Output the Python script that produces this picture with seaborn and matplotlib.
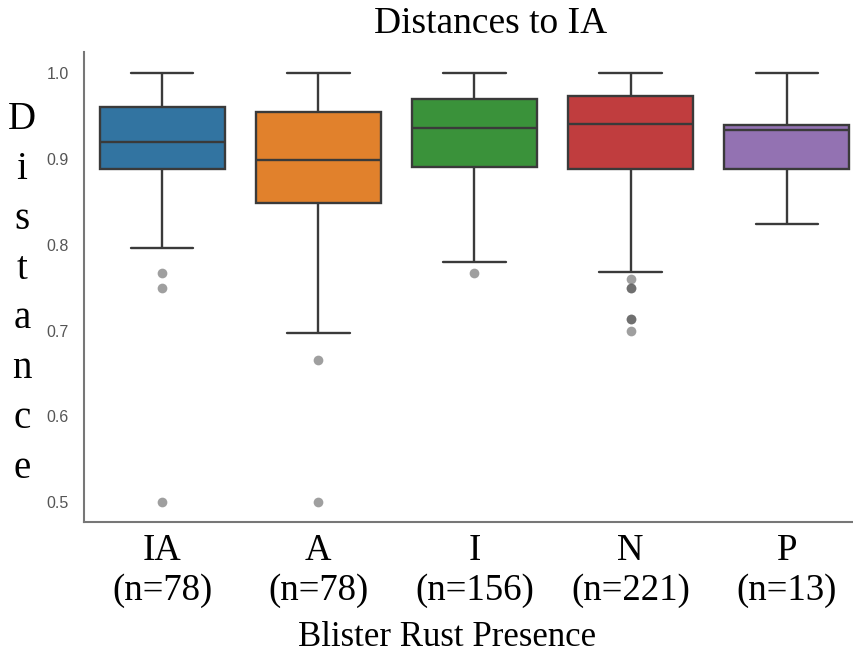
import numpy as np
import pandas as pd
import matplotlib
matplotlib.use("Agg")
import matplotlib.pyplot as plt
import seaborn as sns

# ---- data ----
categories = ["IA", "A", "I", "N", "P"]
counts = [78, 78, 156, 221, 13]
q1 = [0.888, 0.849, 0.891, 0.8885, 0.888]
median = [0.920, 0.899, 0.936, 0.941, 0.9335]
q3 = [0.9605, 0.954, 0.9695, 0.973, 0.940]
whisker_low = [0.796, 0.697, 0.780, 0.768, 0.824]
whisker_high = [1.0, 1.0, 1.0, 1.0, 1.0]
outliers = [
    [0.767, 0.750, 0.500],
    [0.6655, 0.500],
    [0.767],
    [0.7595, 0.749, 0.749, 0.714, 0.714, 0.700],
    [],
]
tick_labels = [f"{c}\n(n={n})" for c, n in zip(categories, counts)]

# Build value lists whose box statistics reproduce the read quartiles/whiskers
rows = []
for i, c in enumerate(categories):
    vals = (list(outliers[i]) + [whisker_low[i]] + [q1[i]] * 10 +
            [median[i]] * 10 + [q3[i]] * 10 + [whisker_high[i]])
    rows += [(c, v) for v in vals]
df = pd.DataFrame(rows, columns=["group", "distance"])

sns.set_theme(style="white")
plt.rcParams["font.family"] = ["Liberation Sans", "DejaVu Sans"]

fig = plt.figure(figsize=(8.54, 6.63), dpi=100)
ax = fig.add_axes([84 / 854, 0.2127, (865 - 84) / 854, 0.7089])

sns.boxplot(
    data=df, x="group", y="distance", hue="group", order=categories,
    palette="tab10", saturation=0.75, width=0.8, linecolor="#3a3a3a",
    linewidth=1.7, fliersize=7, legend=False, ax=ax,
    flierprops=dict(marker="o", markerfacecolor="0.25",
                    markeredgecolor="none", alpha=0.5),
)

ax.set_ylim(0.477, 1.0245)
ax.set_xlim(-0.5, 4.5)
ax.set_yticks([0.5, 0.6, 0.7, 0.8, 0.9, 1.0])
ax.set_yticklabels(["0.5", "0.6", "0.7", "0.8", "0.9", "1.0"])
ax.tick_params(axis="y", labelsize=11.5, labelcolor="#555555", pad=11, length=0)
ax.set_xticks(range(len(categories)))
ax.set_xticklabels(tick_labels, family=["Liberation Serif"], fontsize=26.5,
                   color="black")
ax.tick_params(axis="x", pad=8, length=0)
ax.set_xlabel("")
ax.set_ylabel("")

sns.despine(ax=ax)
for s in ["left", "bottom"]:
    ax.spines[s].set_color("#777777")
    ax.spines[s].set_linewidth(1.5)

fig.text(491 / 854, 1 - 24 / 663, "Distances to IA", ha="center", va="center",
         fontsize=27, family=["Liberation Serif"], color="black")
fig.text(447 / 854, 1 - 638 / 663, "Blister Rust Presence", ha="center",
         va="center", fontsize=25, family=["Liberation Serif"], color="black")
fig.text(22 / 854, 1 - 294 / 663, "D\ni\ns\nt\na\nn\nc\ne", ha="center",
         va="center", multialignment="center", linespacing=1.46,
         fontsize=28, family=["Liberation Serif"], color="black")

fig.savefig("out.png", dpi=100)
